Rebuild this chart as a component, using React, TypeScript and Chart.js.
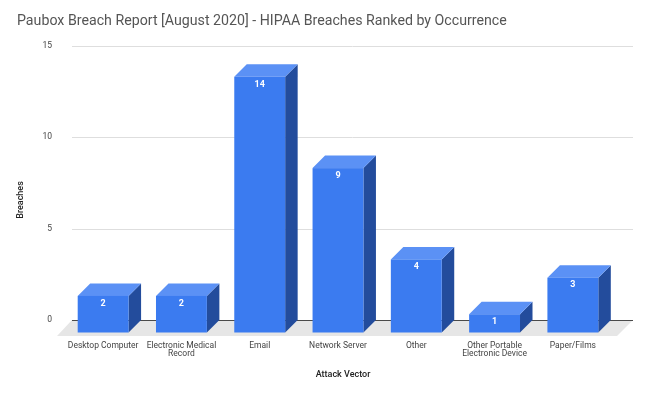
import React, { useEffect, useRef } from 'react';
import { Chart, registerables } from 'chart.js';

Chart.register(...registerables);

const titleText = 'Paubox Breach Report [August 2020] - HIPAA Breaches Ranked by Occurrence';
const categories: (string | string[])[] = [
  'Desktop Computer',
  ['Electronic Medical', 'Record'],
  'Email',
  'Network Server',
  'Other',
  ['Other Portable', 'Electronic Device'],
  'Paper/Films',
];
const breaches = [2, 2, 14, 9, 4, 1, 3];
const yMin = 0;
const yMax = 15;
const yStep = 5;
const xTitle = 'Attack Vector';
const yTitle = 'Breaches';

const FONT = 'Roboto, "Noto Sans", sans-serif';
const FRONT = '#3b7bf0';
const TOP = '#5b91f5';
const SIDE = '#234c9c';
const DEPTH = 12.5;

const threeD = {
  id: 'threeD',
  beforeDatasetsDraw(chart: any) {
    const { ctx, chartArea } = chart;
    const y = chart.scales.y;
    const base = y.getPixelForValue(0);
    const gl = chartArea.left + 8;
    const gr = chartArea.right + 21;
    ctx.save();
    ctx.fillStyle = '#e6e6e6';
    ctx.beginPath();
    ctx.moveTo(gl, base);
    ctx.lineTo(gr, base);
    ctx.lineTo(gr - 16, base + 16);
    ctx.lineTo(gl - 15, base + 16);
    ctx.closePath();
    ctx.fill();
    ctx.lineWidth = 1;
    y.ticks.forEach((t: any) => {
      const py = Math.round(y.getPixelForValue(t.value)) + 0.5;
      ctx.strokeStyle = t.value === 0 ? '#4a4a4a' : '#dedede';
      ctx.beginPath();
      ctx.moveTo(gl, py);
      ctx.lineTo(gr, py);
      ctx.stroke();
    });
    ctx.restore();
  },
  afterDatasetsDraw(chart: any) {
    const { ctx } = chart;
    const meta = chart.getDatasetMeta(0);
    const data = chart.data.datasets[0].data;
    ctx.save();
    meta.data.forEach((bar: any, i: number) => {
      const { x, y, base, width } = bar.getProps(['x', 'y', 'base', 'width'], true);
      const l = x - width / 2;
      const r = x + width / 2;
      const fTop = y + DEPTH;
      const fBase = base + DEPTH;
      ctx.fillStyle = SIDE;
      ctx.beginPath();
      ctx.moveTo(r, fTop);
      ctx.lineTo(r + DEPTH, y);
      ctx.lineTo(r + DEPTH, base);
      ctx.lineTo(r, fBase);
      ctx.closePath();
      ctx.fill();
      ctx.fillStyle = TOP;
      ctx.beginPath();
      ctx.moveTo(l, fTop);
      ctx.lineTo(l + DEPTH, y);
      ctx.lineTo(r + DEPTH, y);
      ctx.lineTo(r, fTop);
      ctx.closePath();
      ctx.fill();
      ctx.fillStyle = FRONT;
      ctx.fillRect(l, fTop, width, fBase - fTop);
      ctx.fillStyle = '#ffffff';
      ctx.font = `bold 9px ${FONT}`;
      ctx.textAlign = 'center';
      ctx.textBaseline = 'middle';
      ctx.fillText(String(data[i]), x, fTop + 7.5);
    });
    ctx.restore();
  },
  afterDraw(chart: any) {
    const { ctx } = chart;
    ctx.save();
    ctx.fillStyle = '#222222';
    ctx.font = `500 9px ${FONT}`;
    ctx.textAlign = 'center';
    ctx.textBaseline = 'middle';
    ctx.fillText(xTitle, 343, 375);
    ctx.translate(21, 200);
    ctx.rotate(-Math.PI / 2);
    ctx.fillText(yTitle, 0, 0);
    ctx.restore();
  },
};

export default function App() {
  const ref = useRef<HTMLCanvasElement>(null);
  useEffect(() => {
    document.body.style.margin = '0';
    const canvas = ref.current!;
    const chart = new Chart(canvas, {
      type: 'bar',
      data: {
        labels: categories,
        datasets: [
          {
            data: breaches,
            backgroundColor: 'rgba(0,0,0,0)',
            borderWidth: 0,
            barPercentage: 0.65,
            categoryPercentage: 1,
          },
        ],
      },
      options: {
        responsive: false,
        animation: false,
        devicePixelRatio: 1,
        layout: { padding: { left: 17, right: 38, top: 0, bottom: 0 } },
        plugins: {
          legend: { display: false },
          tooltip: { enabled: false },
          title: {
            display: true,
            text: titleText,
            align: 'start',
            color: '#555555',
            font: { family: FONT, size: 14.2, weight: 'normal', lineHeight: 1.25 },
            padding: { top: 12.5, bottom: 15.75 },
          },
        },
        scales: {
          x: {
            grid: { display: false, drawTicks: false },
            border: { display: false },
            ticks: {
              color: '#444444',
              font: { family: FONT, size: 8.5, lineHeight: 1 },
              padding: 21.5,
              maxRotation: 0,
              autoSkip: false,
            },
            afterFit(scale: any) {
              scale.height = 76;
            },
          },
          y: {
            min: yMin,
            max: yMax,
            grid: { display: false, drawTicks: false },
            border: { display: false },
            ticks: {
              stepSize: yStep,
              color: '#444444',
              font: { family: FONT, size: 8.5 },
              padding: 12,
            },
            afterFit(scale: any) {
              scale.width = 47;
            },
          },
        },
      },
      plugins: [threeD],
    } as any);
    return () => chart.destroy();
  }, []);
  return (
    <div style={{ position: 'fixed', left: 0, top: 0, width: 650, height: 396 }}>
      <canvas ref={ref} width={650} height={396} />
    </div>
  );
}
